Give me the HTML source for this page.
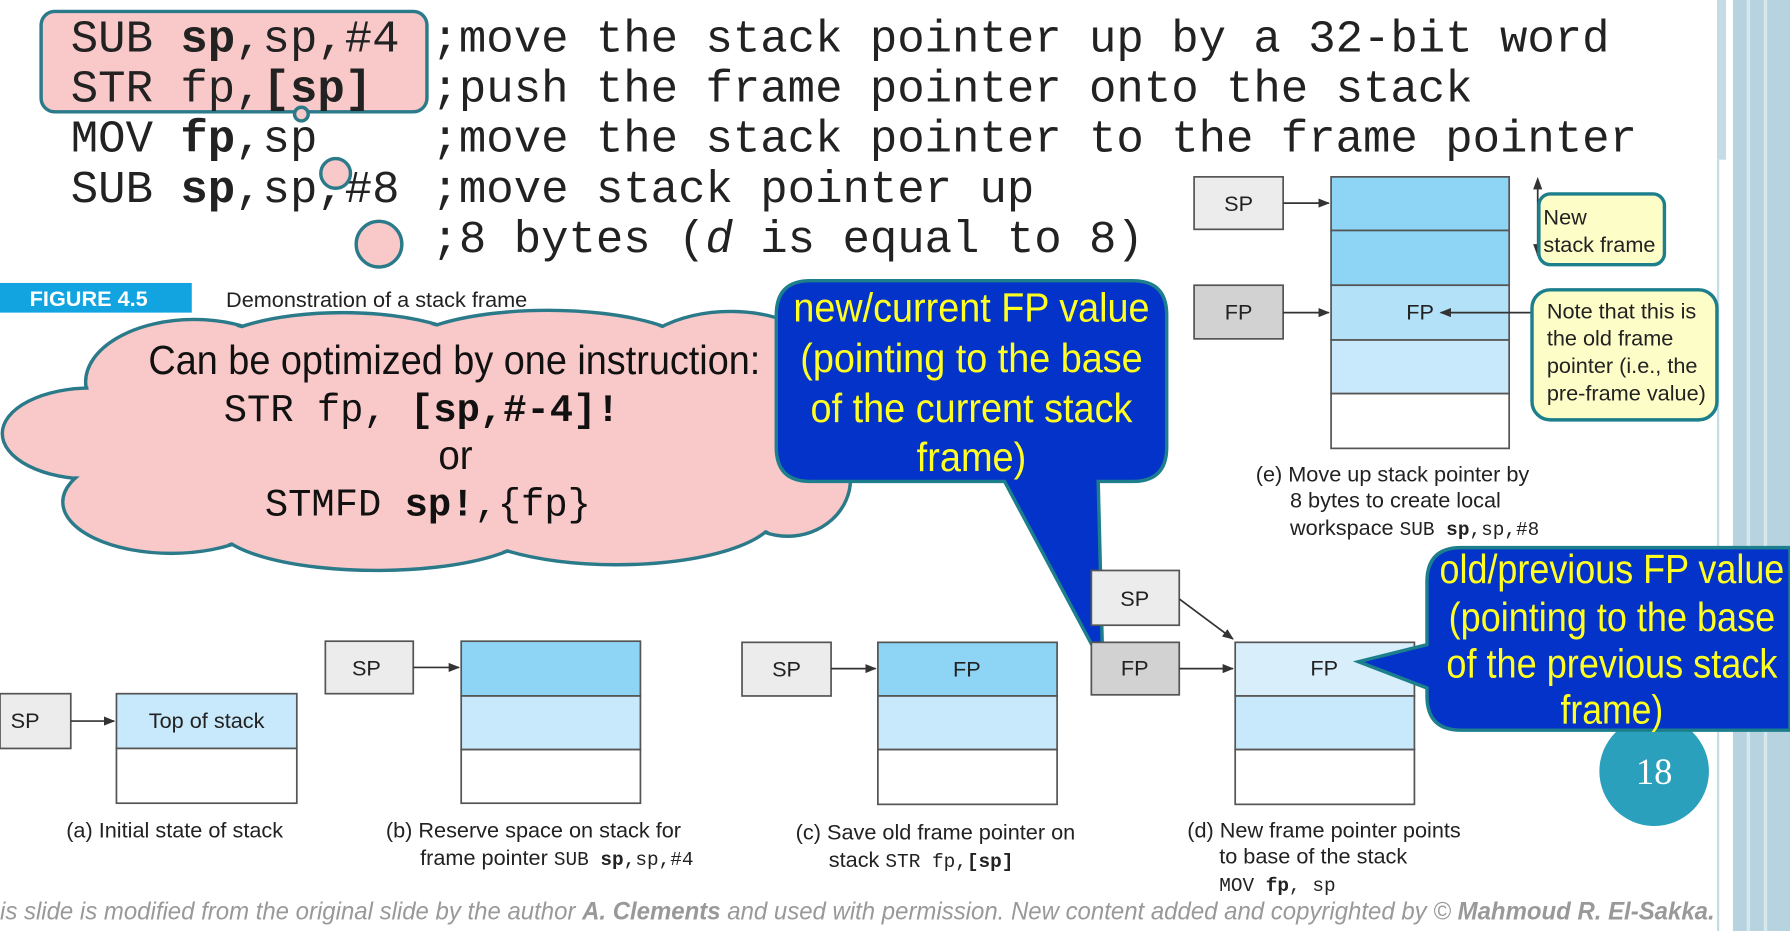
<!DOCTYPE html>
<html><head><meta charset="utf-8"><style>
html,body{margin:0;padding:0;background:#fff;overflow:hidden}
svg{display:block}
.m{font-family:"Liberation Mono",monospace}
.s{font-family:"Liberation Sans",sans-serif}
</style></head><body>
<svg width="1790" height="931" viewBox="0 0 1568 816" preserveAspectRatio="none" xmlns="http://www.w3.org/2000/svg">
<defs>
<marker id="ar" markerWidth="10" markerHeight="8" refX="9" refY="4" orient="auto" markerUnits="userSpaceOnUse"><path d="M0,0 L10,4 L0,8 z" fill="#333"/></marker>
</defs>
<rect x="1504" y="0" width="8" height="140" fill="#c5dce6"/>
<rect x="1518" y="0" width="50" height="816" fill="#b7d3df"/>
<rect x="1530" y="0" width="3" height="816" fill="#d6e7ee"/>
<rect x="1545" y="0" width="3" height="816" fill="#d6e7ee"/>
<rect x="1504" y="140" width="2" height="676" fill="#c5dce6"/>

<rect x="36" y="10" width="338" height="88" rx="12" fill="#f9c8c8" stroke="#2a7a8a" stroke-width="3"/>
<g class="m" font-size="40" fill="#222">
<text x="62" y="45">SUB <tspan font-weight="bold">sp</tspan>,sp,#4</text>
<text x="62" y="89">STR fp,<tspan font-weight="bold">[sp]</tspan></text>
<text x="62" y="133">MOV <tspan font-weight="bold">fp</tspan>,sp</text>
<text x="62" y="177">SUB <tspan font-weight="bold">sp</tspan>,sp,#8</text>
<text x="378" y="45">;move the stack pointer up by a 32-bit word</text>
<text x="378" y="89">;push the frame pointer onto the stack</text>
<text x="378" y="133">;move the stack pointer to the frame pointer</text>
<text x="378" y="177">;move stack pointer up</text>
<text x="378" y="221">;8 bytes (<tspan font-style="italic">d</tspan> is equal to 8)</text>
</g>
<circle cx="264" cy="100" r="6" fill="#f9c8c8" stroke="#2a7a8a" stroke-width="3"/>
<circle cx="294" cy="152" r="13" fill="#f9c8c8" stroke="#2a7a8a" stroke-width="3"/>
<circle cx="332" cy="214" r="20" fill="#f9c8c8" stroke="#2a7a8a" stroke-width="3"/>

<rect x="0" y="248" width="168" height="26" fill="#12a4e0"/>
<text x="26" y="268" class="s" font-size="19" font-weight="bold" fill="#fff">FIGURE 4.5</text>

<!-- cloud -->
<g fill="#f9c8c8" stroke="#2a7a8a" stroke-width="3">
<ellipse cx="170" cy="335" rx="95" ry="55"/>
<ellipse cx="300" cy="312" rx="120" ry="38"/>
<ellipse cx="480" cy="310" rx="130" ry="38"/>
<ellipse cx="640" cy="325" rx="90" ry="52"/>
<ellipse cx="690" cy="420" rx="55" ry="50"/>
<ellipse cx="80" cy="380" rx="78" ry="40"/>
<ellipse cx="150" cy="440" rx="95" ry="45"/>
<ellipse cx="330" cy="460" rx="140" ry="40"/>
<ellipse cx="540" cy="450" rx="140" ry="45"/>
</g>
<g fill="#f9c8c8">
<ellipse cx="170" cy="335" rx="93" ry="53"/>
<ellipse cx="300" cy="312" rx="118" ry="36"/>
<ellipse cx="480" cy="310" rx="128" ry="36"/>
<ellipse cx="640" cy="325" rx="88" ry="50"/>
<ellipse cx="690" cy="420" rx="53" ry="48"/>
<ellipse cx="80" cy="380" rx="76" ry="38"/>
<ellipse cx="150" cy="440" rx="93" ry="43"/>
<ellipse cx="330" cy="460" rx="138" ry="38"/>
<ellipse cx="540" cy="450" rx="138" ry="43"/>
<rect x="90" y="320" width="620" height="130"/>
</g>
<text x="198" y="269" class="s" font-size="19" fill="#222">Demonstration of a stack frame</text>
<text x="130" y="328" class="s" font-size="36" fill="#111" textLength="536" lengthAdjust="spacingAndGlyphs">Can be optimized by one instruction:</text>
<text x="196" y="369" class="m" font-size="34" fill="#111">STR fp, <tspan font-weight="bold">[sp,#-4]!</tspan></text>
<text x="384" y="411" class="s" font-size="36" fill="#111" textLength="30" lengthAdjust="spacingAndGlyphs">or</text>
<text x="232" y="452" class="m" font-size="34" fill="#111">STMFD <tspan font-weight="bold">sp!</tspan>,{fp}</text>

<path d="M710,246 H992 Q1022,246 1022,276 V392 Q1022,422 992,422 H962 L966,583 L880,422 H710 Q680,422 680,392 V276 Q680,246 710,246 Z" fill="#0433c9" stroke="#1d7f8c" stroke-width="3"/>
<g class="s" font-size="36" fill="#ffff22" text-anchor="middle">
<text x="851" y="282" textLength="312" lengthAdjust="spacingAndGlyphs">new/current FP value</text>
<text x="851" y="326" textLength="300" lengthAdjust="spacingAndGlyphs">(pointing to the base</text>
<text x="851" y="370" textLength="282" lengthAdjust="spacingAndGlyphs">of the current stack</text>
<text x="851" y="413" textLength="96" lengthAdjust="spacingAndGlyphs">frame)</text>
</g>

<g stroke="#555" stroke-width="1.5">
<rect x="1046" y="155" width="78" height="46" fill="#ececec"/>
<rect x="1046" y="250" width="78" height="47" fill="#d2d2d2"/>
<rect x="1166" y="155" width="156" height="47" fill="#8dd4f5"/>
<rect x="1166" y="202" width="156" height="48" fill="#8dd4f5"/>
<rect x="1166" y="250" width="156" height="48" fill="#b3e1f8"/>
<rect x="1166" y="298" width="156" height="47" fill="#c8e9fb"/>
<rect x="1166" y="345" width="156" height="48" fill="#fff"/>
</g>
<g class="s" font-size="19" fill="#222" text-anchor="middle">
<text x="1085" y="185">SP</text><text x="1085" y="280">FP</text><text x="1244" y="280">FP</text>
</g>
<g stroke="#333" stroke-width="1.5" fill="none">
<line x1="1124" y1="178" x2="1164" y2="178" marker-end="url(#ar)"/>
<line x1="1124" y1="274" x2="1164" y2="274" marker-end="url(#ar)"/>
<line x1="1350" y1="274" x2="1262" y2="274" marker-end="url(#ar)"/>
<line x1="1347" y1="158" x2="1347" y2="224"/>
<path d="M1343,166 L1347,155 L1351,166 Z M1343,214 L1347,225 L1351,214 Z" fill="#333" stroke="none"/>
</g>
<rect x="1348" y="170" width="110" height="62" rx="10" fill="#fdfdc8" stroke="#1d7f8c" stroke-width="3"/>
<text x="1352" y="197" class="s" font-size="19" fill="#222">New</text>
<text x="1352" y="221" class="s" font-size="19" fill="#222">stack frame</text>
<rect x="1342" y="254" width="162" height="114" rx="16" fill="#fdfdc8" stroke="#1d7f8c" stroke-width="3"/>
<g class="s" font-size="19" fill="#222">
<text x="1355" y="279">Note that this is</text>
<text x="1355" y="303">the old frame</text>
<text x="1355" y="327">pointer (i.e., the</text>
<text x="1355" y="351">pre-frame value)</text>
<text x="1100" y="422">(e) Move up stack pointer by</text>
<text x="1130" y="445">8 bytes to create local</text>
<text x="1130" y="469">workspace <tspan class="m" font-size="17">SUB <tspan font-weight="bold">sp</tspan>,sp,#8</tspan></text>
</g>

<g stroke="#555" stroke-width="1.5">
<rect x="0" y="608" width="62" height="48" fill="#ececec"/>
<rect x="102" y="608" width="158" height="48" fill="#c8e9fb"/>
<rect x="102" y="656" width="158" height="48" fill="#fff"/>
<rect x="285" y="562" width="77" height="46" fill="#ececec"/>
<rect x="404" y="562" width="157" height="48" fill="#8dd4f5"/>
<rect x="404" y="610" width="157" height="47" fill="#c8e9fb"/>
<rect x="404" y="657" width="157" height="47" fill="#fff"/>
<rect x="650" y="563" width="78" height="47" fill="#ececec"/>
<rect x="769" y="563" width="157" height="47" fill="#8dd4f5"/>
<rect x="769" y="610" width="157" height="47" fill="#c8e9fb"/>
<rect x="769" y="657" width="157" height="48" fill="#fff"/>
<rect x="956" y="500" width="77" height="48" fill="#ececec"/>
<rect x="956" y="563" width="77" height="46" fill="#d2d2d2"/>
<rect x="1082" y="563" width="157" height="47" fill="#d8effb"/>
<rect x="1082" y="610" width="157" height="47" fill="#c8e9fb"/>
<rect x="1082" y="657" width="157" height="48" fill="#fff"/>
</g>
<g stroke="#333" stroke-width="1.5">
<line x1="62" y1="632" x2="100" y2="632" marker-end="url(#ar)"/>
<line x1="362" y1="585" x2="402" y2="585" marker-end="url(#ar)"/>
<line x1="728" y1="586" x2="767" y2="586" marker-end="url(#ar)"/>
<line x1="1033" y1="586" x2="1080" y2="586" marker-end="url(#ar)"/>
<line x1="1033" y1="525" x2="1080" y2="560" marker-end="url(#ar)"/>
</g>
<g class="s" font-size="19" fill="#222" text-anchor="middle">
<text x="22" y="638">SP</text>
<text x="181" y="638">Top of stack</text>
<text x="321" y="592">SP</text>
<text x="689" y="593">SP</text>
<text x="847" y="593">FP</text>
<text x="994" y="531">SP</text>
<text x="994" y="592">FP</text>
<text x="1160" y="592">FP</text>
</g>
<g class="s" font-size="19" fill="#222">
<text x="58" y="734">(a) Initial state of stack</text>
<text x="338" y="734">(b) Reserve space on stack for</text>
<text x="368" y="758">frame pointer <tspan class="m" font-size="17">SUB <tspan font-weight="bold">sp</tspan>,sp,#4</tspan></text>
<text x="697" y="736">(c) Save old frame pointer on</text>
<text x="726" y="760">stack <tspan class="m" font-size="17">STR fp,<tspan font-weight="bold">[sp]</tspan></tspan></text>
<text x="1040" y="734">(d) New frame pointer points</text>
<text x="1068" y="757">to base of the stack</text>
<text x="1068" y="781" class="m" font-size="17">MOV <tspan font-weight="bold">fp</tspan>, sp</text>
</g>

<circle cx="1449" cy="676" r="48" fill="#2ba0bc"/>
<text x="1449" y="687" font-family="Liberation Serif,serif" font-size="32" fill="#fff" text-anchor="middle">18</text>

<path d="M1280,480 H1568 V640 H1280 Q1250,640 1250,610 V603 L1190,580 L1250,565 V510 Q1250,480 1280,480 Z" fill="#0433c9" stroke="#1d7f8c" stroke-width="3"/>
<g class="s" font-size="36" fill="#ffff22" text-anchor="middle">
<text x="1412" y="511" textLength="302" lengthAdjust="spacingAndGlyphs">old/previous FP value</text>
<text x="1412" y="553" textLength="286" lengthAdjust="spacingAndGlyphs">(pointing to the base</text>
<text x="1412" y="594" textLength="290" lengthAdjust="spacingAndGlyphs">of the previous stack</text>
<text x="1412" y="634" textLength="90" lengthAdjust="spacingAndGlyphs">frame)</text>
</g>

<text x="0" y="806" class="s" font-size="22" font-style="italic" fill="#999" textLength="1502" lengthAdjust="spacingAndGlyphs">is slide is modified from the original slide by the author <tspan font-weight="bold">A. Clements</tspan> and used with permission. New content added and copyrighted by © <tspan font-weight="bold">Mahmoud R. El-Sakka.</tspan></text>
</svg>
</body></html>
